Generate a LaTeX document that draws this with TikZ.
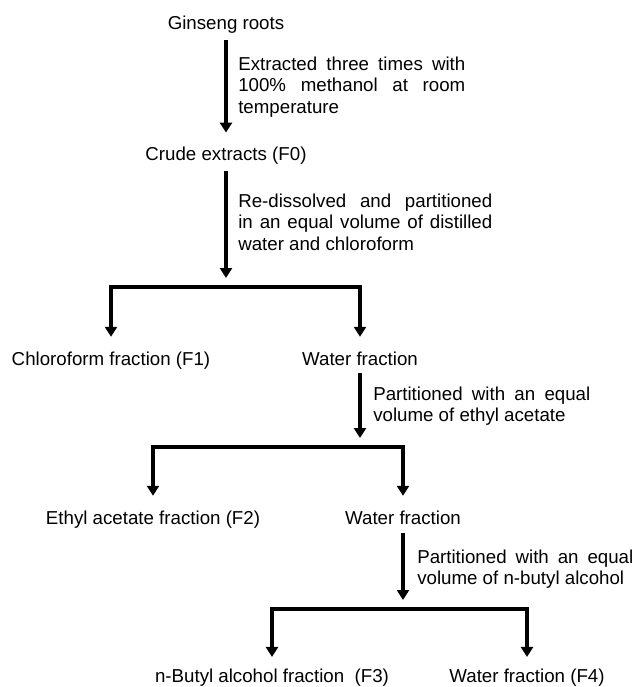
\documentclass[tikz,border=0pt]{standalone}
\usepackage{fontspec}
\setmainfont{Liberation Sans}
\usetikzlibrary{arrows.meta}

\tikzset{
  lbl/.style={font=\fontsize{13.3}{15.3}\selectfont, inner sep=0pt},
  note/.style={lbl, align=justify, anchor=north west},
  flow/.style={line width=0.11cm, -{Triangle[length=0.25cm,width=0.3cm]}},
}

\begin{document}
\begin{tikzpicture}[x=0.025cm, y=-0.025cm]
  %%%%% START %%%%%
  \useasboundingbox (0, 0) rectangle (635, 687);

  % steps
  \node[lbl, anchor=base] (gin) at (226, 29) {Ginseng roots};
  \node[lbl, anchor=base] (crude) at (226, 160) {Crude extracts (F0)};
  \node[lbl, anchor=base] (chl) at (111, 365) {Chloroform fraction (F1)};
  \node[lbl, anchor=base] (wat1) at (360, 365) {Water fraction};
  \node[lbl, anchor=base] (eth) at (153, 524) {Ethyl acetate fraction (F2)};
  \node[lbl, anchor=base] (wat2) at (403, 524) {Water fraction};
  \node[lbl, anchor=base] (but) at (272, 682) {n-Butyl alcohol fraction \ (F3)};
  \node[lbl, anchor=base] (wat3) at (527, 682) {Water fraction (F4)};

  % notes
  \node[note, text width=5.675cm] (n1) at (238, 56.5)
    {Extracted three times with\linebreak 100\% methanol at room\linebreak temperature};
  \node[note, text width=6.35cm] (n2) at (238, 193.5)
    {Re-dissolved and partitioned\linebreak in an equal volume of distilled\linebreak water and chloroform};
  \node[note, text width=5.425cm] (n3) at (373, 386.5)
    {Partitioned with an equal\linebreak volume of ethyl acetate};
  \node[note, text width=5.4cm] (n4) at (417, 549.5)
    {Partitioned with an equal\linebreak volume of n-butyl alcohol};

  % split points
  \coordinate (b1) at (226, 287);
  \coordinate (b2) at (360, 447);
  \coordinate (b3) at (403, 609);

  \draw[flow, shorten <=0.175cm, shorten >=0.34cm] (gin.south) -- (crude.north);

  \draw[flow, shorten <=0.175cm, shorten >=0.225cm] (crude.south) -- (b1);
  \draw[flow, shorten >=0.36cm] (b1) -| (chl);
  \draw[flow, shorten >=0.36cm] (b1) -| (wat1);

  \draw[flow, shorten <=0.2cm, shorten >=0.225cm] (wat1.south) -- (b2);
  \draw[flow, shorten >=0.36cm] (b2) -| (eth);
  \draw[flow, shorten >=0.36cm] (b2) -| (wat2);

  \draw[flow, shorten <=0.225cm, shorten >=0.225cm] (wat2.south) -- (b3);
  \draw[flow, shorten >=0.28cm] (b3) -| (but);
  \draw[flow, shorten >=0.28cm] (b3) -| (wat3);
  %%%%% END %%%%%
\end{tikzpicture}
\end{document}
